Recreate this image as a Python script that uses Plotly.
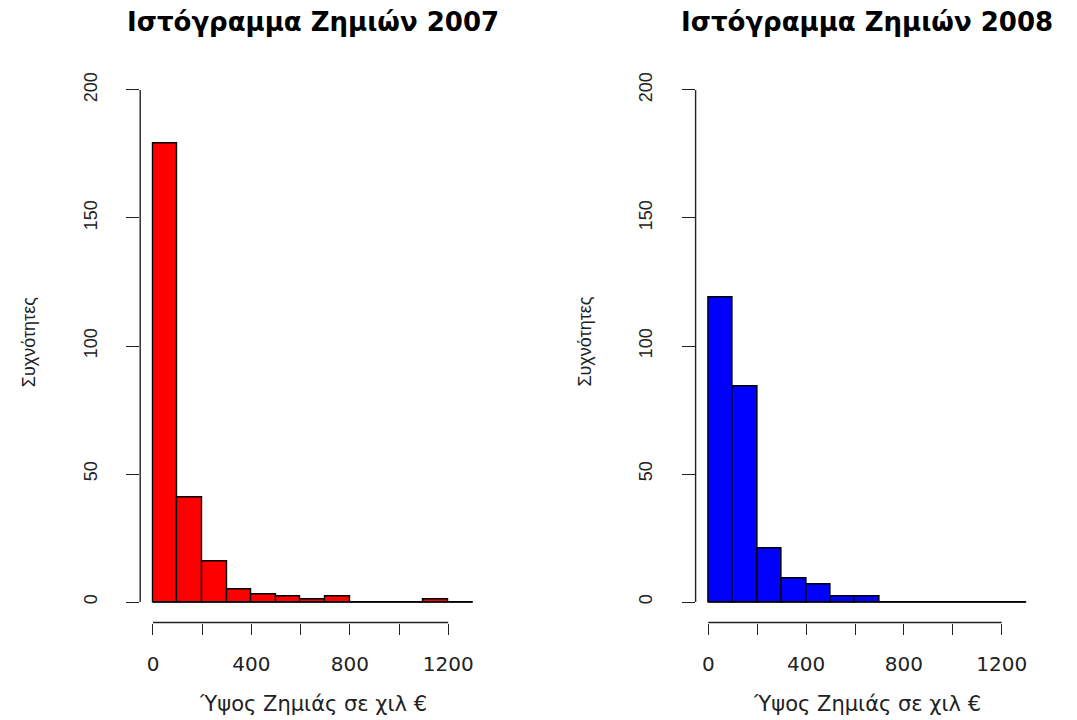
import numpy as np
import plotly.graph_objects as go

# Histogram bins (thousands of euros), width 100 from 0 to 1300
bin_edges = list(range(0, 1400, 100))
counts_2007 = [179, 41, 16, 5, 3, 2, 1, 2, 0, 0, 0, 1, 0]
counts_2008 = [119, 84, 21, 9, 7, 2, 2, 0, 0, 0, 0, 0, 0]

x_ticks = [0, 200, 400, 600, 800, 1000, 1200]
x_tick_labels = ["0", "", "400", "", "800", "", "1200"]
y_ticks = [0, 50, 100, 150, 200]

titles = ["Ιστόγραμμα Ζημιών 2007", "Ιστόγραμμα Ζημιών 2008"]
x_title = "Ύψος Ζημιάς σε χιλ €"
y_title = "Συχνότητες"
fills = ["#FF0000", "#0000FF"]

W, H = 1077, 720
# plot regions in pixels (left, right), shared top/bottom
regions = [(140.2, 485.6), (695.6, 1038.9)]
top_px, bot_px = 69.5, 622.5
ydom = [(H - bot_px) / H, (H - top_px) / H]

edges = np.array(bin_edges)
centers = (edges[:-1] + edges[1:]) / 2
widths = np.diff(edges)

fig = go.Figure()
shapes = []
annotations = []
for i, counts in enumerate([counts_2007, counts_2008]):
    xa = "x" if i == 0 else "x2"
    ya = "y" if i == 0 else "y2"
    fig.add_trace(go.Bar(
        x=centers, y=counts, width=widths,
        marker=dict(color=fills[i], line=dict(color="black", width=1.4)),
        xaxis=xa, yaxis=ya, showlegend=False, hoverinfo="x+y",
    ))
    # baseline under all bins (empty bins appear as flat rectangles)
    shapes.append(dict(type="line", xref=xa, yref=ya, x0=bin_edges[0], x1=bin_edges[-1],
                       y0=0, y1=0, line=dict(color="black", width=1.4), layer="above"))
    # axis lines spanning only from first to last tick
    shapes.append(dict(type="line", xref=xa, yref=f"{ya} domain", x0=x_ticks[0], x1=x_ticks[-1],
                       y0=0, y1=0, line=dict(color="#222", width=1.4)))
    shapes.append(dict(type="line", xref=f"{xa} domain", yref=ya, x0=0, x1=0,
                       y0=y_ticks[0], y1=y_ticks[-1], line=dict(color="#222", width=1.4)))
    l, r = regions[i]
    cx = (l + r) / 2 / W
    annotations.append(dict(text="<b>" + titles[i] + "</b>", xref="paper", yref="paper",
                             x=cx, y=(H - 22) / H, xanchor="center", yanchor="middle",
                             showarrow=False,
                             font=dict(family="DejaVu Sans", size=26, color="black")))
    annotations.append(dict(text=x_title, xref="paper", yref="paper",
                            x=cx, y=(H - 704) / H, xanchor="center", yanchor="middle",
                            showarrow=False,
                            font=dict(family="DejaVu Sans", size=21, color="#222")))
    annotations.append(dict(text=y_title, xref="paper", yref="paper",
                            x=(l - 111) / W, y=(H - 342) / H, xanchor="center", yanchor="middle",
                            textangle=-90, showarrow=False,
                            font=dict(family="Liberation Sans", size=18, color="#222")))

axis_common_x = dict(range=[-52, 1352], tickmode="array", tickvals=x_ticks, ticktext=x_tick_labels,
                     ticks="outside", ticklen=11, tickwidth=1.4, tickcolor="#222",
                     showline=False, showgrid=False, zeroline=False, ticklabelstandoff=12,
                     tickfont=dict(family="DejaVu Sans", size=20, color="#222"), fixedrange=True)
axis_common_y = dict(range=[-8, 208], tickmode="array", tickvals=y_ticks,
                     ticks="outside", ticklen=13, tickwidth=1.4, tickcolor="#222",
                     showline=False, showgrid=False, zeroline=False, tickangle=-90,
                     ticklabelstandoff=22,
                     tickfont=dict(family="Liberation Sans", size=18, color="#222"), fixedrange=True)

fig.update_layout(
    width=W, height=H,
    margin=dict(l=0, r=0, t=0, b=0),
    paper_bgcolor="white", plot_bgcolor="white",
    bargap=0,
    xaxis=dict(domain=[regions[0][0] / W, regions[0][1] / W], anchor="y", **axis_common_x),
    yaxis=dict(domain=ydom, anchor="x", **axis_common_y),
    xaxis2=dict(domain=[regions[1][0] / W, regions[1][1] / W], anchor="y2", **axis_common_x),
    yaxis2=dict(domain=ydom, anchor="x2", **axis_common_y),
    shapes=shapes,
    annotations=annotations,
)

fig.write_html("out.html")
